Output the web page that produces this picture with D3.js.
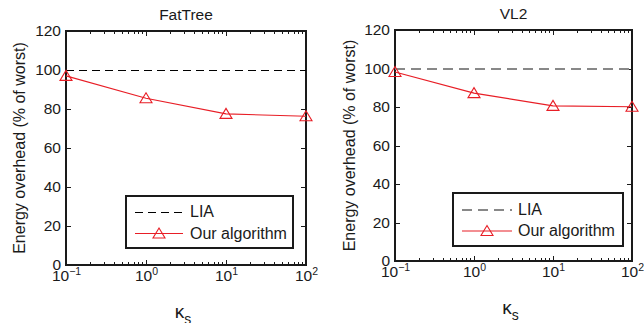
<!DOCTYPE html>
<html>
<head>
<meta charset="utf-8">
<script src="https://cdn.jsdelivr.net/npm/d3@7"></script>
<style>
  html, body { margin: 0; padding: 0; background: #fff; }
  svg { display: block; font-family: "Liberation Sans", Arial, Helvetica, sans-serif; }
  svg text { font-family: "Liberation Sans", Arial, Helvetica, sans-serif; }
  .crisp { shape-rendering: crispEdges; }
</style>
</head>
<body>
<svg id="chart" width="644" height="323"></svg>
<script>
// ---- data ----
const kappaValues = [0.1, 1, 10, 100];
const fatTreeOurs = [97, 85.5, 77.5, 76.3];
const vl2Ours = [98.2, 87.2, 80.6, 80.1];
const liaLevel = 100;
const xMajorTicks = [0.1, 1, 10, 100];
const xTickExponents = ["\u22121", "0", "1", "2"];
const yTicks = [0, 20, 40, 60, 80, 100, 120];
const panelTitles = ["FatTree", "VL2"];
const legendLabels = ["LIA", "Our algorithm"];
const yLabel = "Energy overhead (% of worst)";

const svg = d3.select("#chart");
const RED = "rgb(232,30,38)";
const INK = "#1a1a1a";

const panels = [
  { title: panelTitles[0], values: fatTreeOurs, left: 66, right: 306, top: 31, bottom: 265,
    liaColor: "#000", liaWidth: 1, liaDash: "8,5", ylabX: 19,
    legend: { x: 126, y: 196, w: 167, h: 52, s0: 135, s1: 183, tx: 190, b1: 217, b2: 238.5 } },
  { title: panelTitles[1], values: vl2Ours, left: 395, right: 632, top: 30, bottom: 261,
    liaColor: "#888", liaWidth: 2, liaDash: "10,6", ylabX: 349,
    legend: { x: 453, y: 193, w: 170, h: 53, s0: 462, s1: 512, tx: 518, b1: 214.5, b2: 236 } }
];

const minorTicks = [];
[0.1, 1, 10].forEach(d => { for (let k = 2; k <= 9; k++) minorTicks.push(d * k); });

function triangle(sel) {
  sel.append("path").attr("d", "M0,-5.5L6,4.5L-6,4.5Z")
    .attr("fill", "none").attr("stroke", RED).attr("stroke-width", 1.1);
}

function clean(axisG) {
  axisG.attr("font-family", null).attr("font-size", null);
  axisG.select(".domain").remove();
  axisG.selectAll(".tick line").attr("stroke", INK).attr("class", "crisp");
  return axisG;
}

panels.forEach(p => {
  const g = svg.append("g");
  const x = d3.scaleLog().domain([0.1, 100]).range([p.left, p.right]);
  const y = d3.scaleLinear().domain([0, 120]).range([p.bottom, p.top]);

  // title
  g.append("text").attr("x", (p.left + p.right) / 2).attr("y", p.top - 11)
    .attr("text-anchor", "middle").attr("font-size", 15.5).attr("fill", INK).text(p.title);

  // y axis left
  const ya = clean(g.append("g").attr("transform", `translate(${p.left},0)`)
    .call(d3.axisLeft(y).tickValues(yTicks).tickSize(-5).tickSizeOuter(0).tickPadding(5)));
  ya.selectAll("text").attr("font-size", 15.5).attr("fill", INK);
  // y axis right
  clean(g.append("g").attr("transform", `translate(${p.right},0)`)
    .call(d3.axisRight(y).tickValues(yTicks).tickSize(-5).tickSizeOuter(0).tickFormat("")));

  // x axis bottom majors
  const xa = clean(g.append("g").attr("transform", `translate(0,${p.bottom})`)
    .call(d3.axisBottom(x).tickValues(xMajorTicks).tickSize(-5).tickSizeOuter(0).tickPadding(5).tickFormat("")));
  xa.selectAll(".tick text").each(function(d, i) {
    const t = d3.select(this).attr("font-size", 15.5).attr("fill", INK).attr("dy", "0.71em");
    t.append("tspan").text("10");
    t.append("tspan").attr("font-size", 10.5).attr("dy", "-0.6em").text(xTickExponents[i]);
  });
  clean(g.append("g").attr("transform", `translate(0,${p.bottom})`)
    .call(d3.axisBottom(x).tickValues(minorTicks).tickSize(-3).tickSizeOuter(0).tickFormat("")));
  // x axis top
  clean(g.append("g").attr("transform", `translate(0,${p.top})`)
    .call(d3.axisTop(x).tickValues(xMajorTicks).tickSize(-5).tickSizeOuter(0).tickFormat("")));
  clean(g.append("g").attr("transform", `translate(0,${p.top})`)
    .call(d3.axisTop(x).tickValues(minorTicks).tickSize(-3).tickSizeOuter(0).tickFormat("")));

  // box
  g.append("rect").attr("class", "crisp").attr("x", p.left).attr("y", p.top)
    .attr("width", p.right - p.left).attr("height", p.bottom - p.top)
    .attr("fill", "none").attr("stroke", INK).attr("stroke-width", 1.2);

  // y label
  g.append("text").attr("transform", `translate(${p.ylabX},${(p.top + p.bottom) / 2}) rotate(-90)`)
    .attr("text-anchor", "middle").attr("dy", "0.35em").attr("font-size", 16).attr("fill", INK).text(yLabel);

  // x label kappa_s
  const xl = g.append("text").attr("x", (p.left + p.right) / 2 - 3).attr("y", p.bottom + 53)
    .attr("text-anchor", "middle").attr("fill", INK);
  xl.append("tspan").attr("font-size", 19).text("\u03BA");
  xl.append("tspan").attr("font-size", 14).attr("dy", 6).text("s");

  // LIA line
  g.append("line").attr("class", "crisp").attr("x1", p.left).attr("x2", p.right)
    .attr("y1", y(liaLevel)).attr("y2", y(liaLevel))
    .attr("stroke", p.liaColor).attr("stroke-width", p.liaWidth).attr("stroke-dasharray", p.liaDash);

  // Our algorithm
  g.append("path").datum(p.values)
    .attr("d", d3.line().x((d, i) => x(kappaValues[i])).y(d => y(d)))
    .attr("fill", "none").attr("stroke", RED).attr("stroke-width", 1.1);
  g.selectAll(".mk").data(p.values).enter().append("g")
    .attr("transform", (d, i) => `translate(${x(kappaValues[i])},${y(d)})`).call(triangle);

  // legend
  const L = p.legend;
  const lg = g.append("g");
  lg.append("rect").attr("class", "crisp").attr("x", L.x).attr("y", L.y).attr("width", L.w).attr("height", L.h)
    .attr("fill", "#fff").attr("stroke", INK).attr("stroke-width", 1.2);
  const r1 = Math.round(L.b1 - 5), r2 = L.b2 - 5;
  lg.append("line").attr("class", "crisp").attr("x1", L.s0).attr("x2", L.s1).attr("y1", r1).attr("y2", r1)
    .attr("stroke", p.liaColor).attr("stroke-width", p.liaWidth).attr("stroke-dasharray", p.liaDash);
  lg.append("text").attr("x", L.tx).attr("y", L.b1).attr("font-size", 16).attr("fill", INK).text(legendLabels[0]);
  lg.append("line").attr("x1", L.s0).attr("x2", L.s1).attr("y1", r2).attr("y2", r2)
    .attr("stroke", RED).attr("stroke-width", 1.1);
  lg.append("g").attr("transform", `translate(${(L.s0 + L.s1) / 2},${r2})`).call(triangle);
  lg.append("text").attr("x", L.tx).attr("y", L.b2).attr("font-size", 16).attr("fill", INK).text(legendLabels[1]);
});
</script>
</body>
</html>
